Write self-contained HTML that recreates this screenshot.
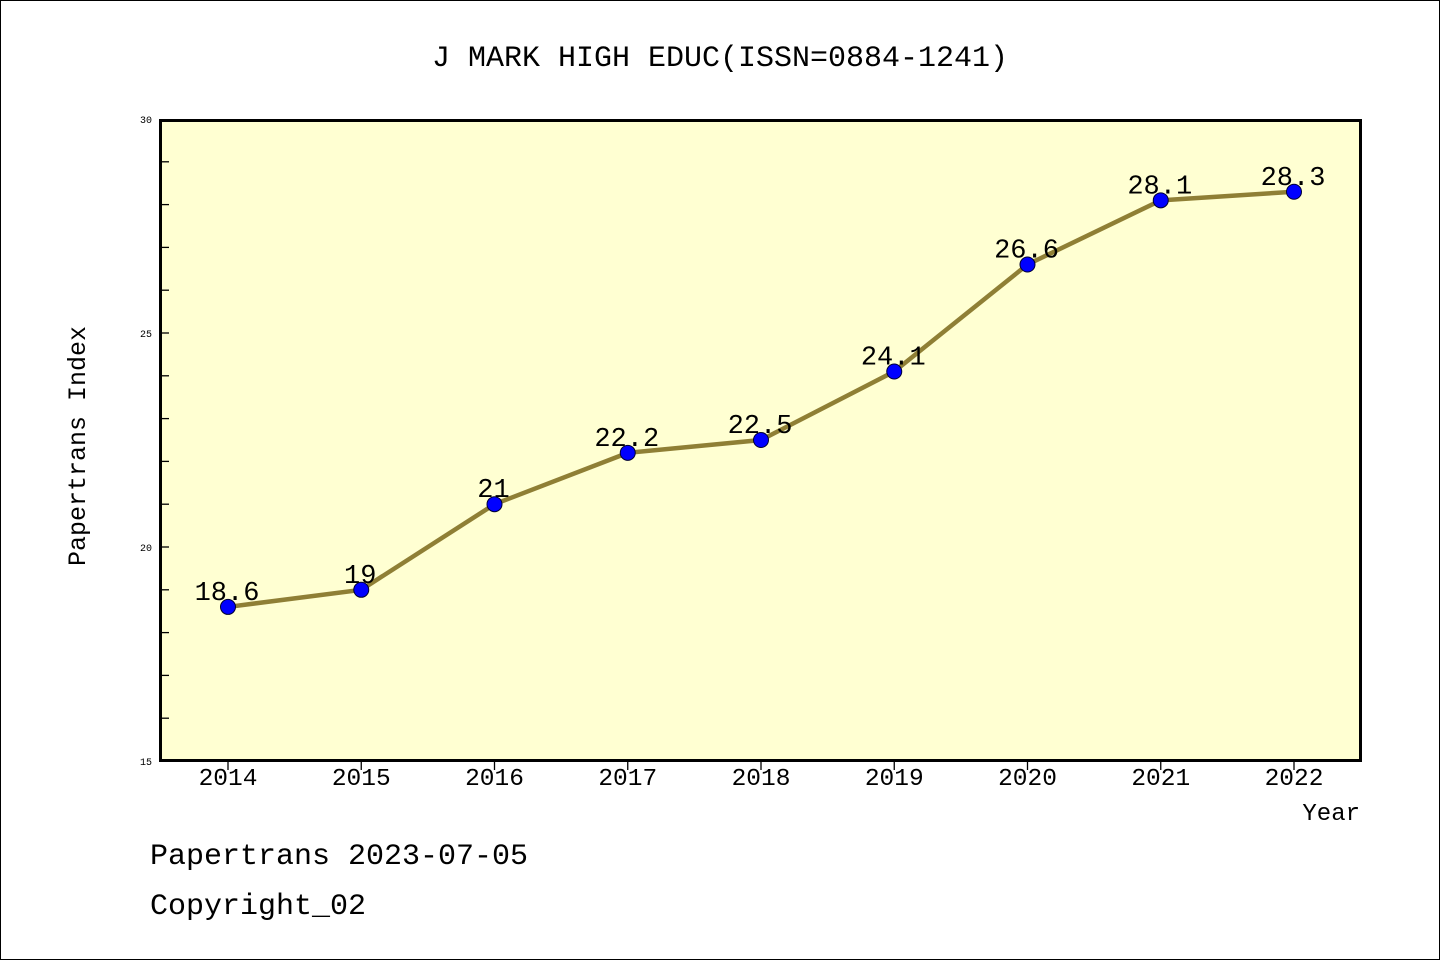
<!DOCTYPE html>
<html><head><meta charset="utf-8"><style>
html,body{margin:0;padding:0;background:#fff}
svg{display:block}
text{font-family:"Liberation Mono",monospace;fill:#000}
</style></head><body>
<svg id="chart" width="1440" height="960">
<rect x="0.5" y="0.5" width="1439" height="959" fill="#fff" stroke="#000"/>
<text x="720" y="66" font-size="30" text-anchor="middle">J MARK HIGH EDUC(ISSN=0884-1241)</text>
<rect x="160.5" y="120.5" width="1200" height="640" fill="#ffffd2" stroke="#000" stroke-width="3"/>
<g id="yax"></g><g id="xax"></g><g id="series"></g>
<text x="85" y="446" font-size="25" text-anchor="middle" transform="rotate(-90 85 446)">Papertrans Index</text>
<text x="1360" y="820" font-size="24" text-anchor="end">Year</text>
<text x="150" y="864" font-size="30">Papertrans 2023-07-05</text>
<text x="150" y="914" font-size="30">Copyright_02</text>
</svg>
<script>
const years=["2014","2015","2016","2017","2018","2019","2020","2021","2022"];
const values=[18.6,19,21,22.2,22.5,24.1,26.6,28.1,28.3];
const valueLabels=["18.6","19","21","22.2","22.5","24.1","26.6","28.1","28.3"];
const yTickLabels=[15,20,25,30];
const NS="http://www.w3.org/2000/svg";
const yMin=15,yMax=30,plotTop=119,plotBot=761;
function ys(v){return plotBot-(v-yMin)/(yMax-yMin)*(plotBot-plotTop);}
function xs(i){return 228+i*(1294-228)/(years.length-1);}
function mk(t,a,p){const e=document.createElementNS(NS,t);for(const k in a)e.setAttribute(k,a[k]);p.appendChild(e);return e;}
const yax=document.getElementById('yax'),xax=document.getElementById('xax'),ser=document.getElementById('series');
for(let v=yMin+1;v<yMax;v++){
  const t=mk('line',{x1:161,x2:169,y1:ys(v),y2:ys(v),stroke:'#000','stroke-width':1.3},yax);
  
  
}
yTickLabels.forEach(v=>{
  const t=mk('text',{x:152,y:ys(v)+4,'font-size':10,'text-anchor':'end'},yax);
  t.textContent=v;
  
  
});
years.forEach((y,i)=>{
  const l=mk('line',{x1:xs(i),x2:xs(i),y1:761,y2:770,stroke:'#000','stroke-width':1.3},xax);
  
  
  const t=mk('text',{x:xs(i),y:785,'font-size':24.5,'text-anchor':'middle'},xax);
  t.textContent=y;
  
  
});
const pl=mk('polyline',{points:values.map((v,i)=>xs(i)+','+ys(v)).join(' '),fill:'none',stroke:'#8f7f35','stroke-width':4.5},ser);


values.forEach((v,i)=>{
  const c=mk('circle',{cx:xs(i),cy:ys(v),r:7.5,fill:'#0000ff',stroke:'#000033','stroke-width':1},ser);
  
  
  const t=mk('text',{x:xs(i)-1,y:ys(v)-7,'font-size':27,'text-anchor':'middle'},ser);
  t.textContent=valueLabels[i];
  
  
});
</script>
</body></html>
